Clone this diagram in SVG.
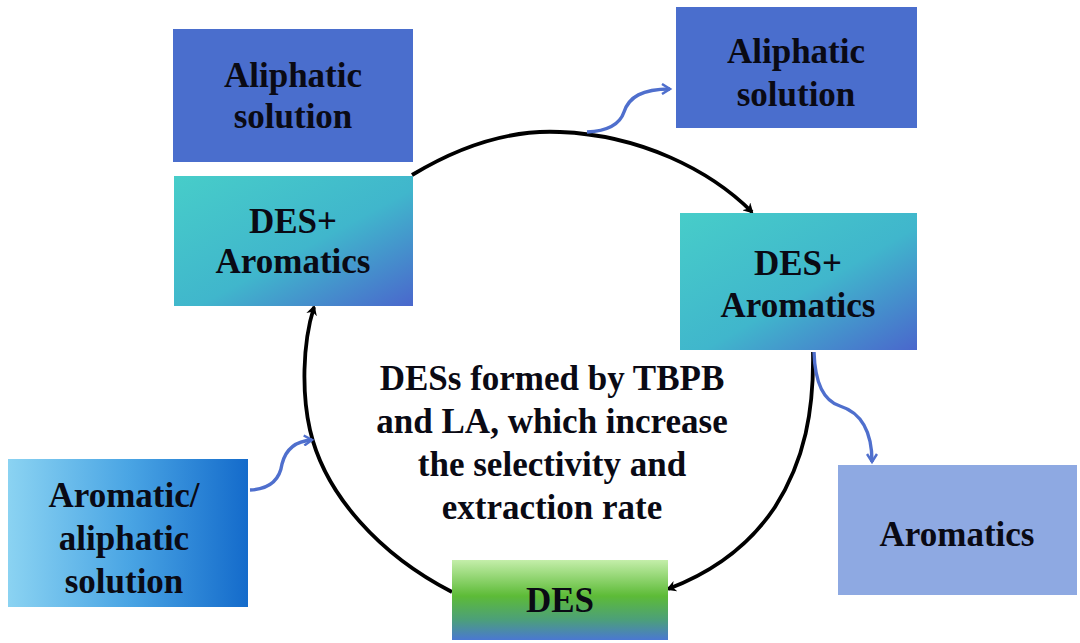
<svg xmlns="http://www.w3.org/2000/svg" width="1080" height="643" viewBox="0 0 1080 643">
<defs>
<linearGradient id="gTeal" x1="0" y1="0" x2="1" y2="1">
<stop offset="0" stop-color="#47cdc9"/>
<stop offset="0.55" stop-color="#40b6cc"/>
<stop offset="1" stop-color="#4a67cc"/>
</linearGradient>
<linearGradient id="gSky" x1="0" y1="0" x2="1" y2="0">
<stop offset="0" stop-color="#8bd3f2"/>
<stop offset="0.5" stop-color="#4aa5e4"/>
<stop offset="1" stop-color="#146bcb"/>
</linearGradient>
<linearGradient id="gGreen" x1="0" y1="0" x2="0" y2="1">
<stop offset="0" stop-color="#c4eeaa"/>
<stop offset="0.45" stop-color="#5dbb37"/>
<stop offset="0.75" stop-color="#4c9f7a"/>
<stop offset="1" stop-color="#4a78d2"/>
</linearGradient>
<marker id="ahB" markerWidth="11" markerHeight="11" refX="8" refY="5.5" orient="auto" markerUnits="userSpaceOnUse">
<path d="M0,0 L10,5.5 L0,11 L3,5.5 Z" fill="#000"/>
</marker>
<marker id="ahU" markerWidth="12" markerHeight="12" refX="9" refY="6" orient="auto" markerUnits="userSpaceOnUse">
<path d="M1,1 L9,6 L1,11" fill="none" stroke="#4f6fcd" stroke-width="2.5"/>
</marker>
</defs>
<style>
.t{font-weight:700;font-size:35px;fill:#0a0a14;text-anchor:middle}
.cyc{fill:none;stroke:#000;stroke-width:3.8}
.wave{fill:none;stroke:#4f6fcd;stroke-width:3.4}
</style>
<rect width="1080" height="643" fill="#fff"/>
<g id="connectors">
<path class="cyc" d="M412,175 C470,140 520,130 560,132 C640,135 710,170 752,212" marker-end="url(#ahB)"/>
<path class="cyc" d="M813,352 C814,410 805,460 775,507 C745,552 705,575 668,589" marker-end="url(#ahB)"/>
<path class="cyc" d="M452,592 C380,555 325,495 310,430 C302,395 302,345 314,307" marker-end="url(#ahB)"/>
<path class="wave" d="M587,132 C608,131 620,124 624,112 C629,97 642,89 670,89" marker-end="url(#ahU)"/>
<path class="wave" d="M250,490 C272,489 280,478 282,464 C286,448 296,441 312,440" marker-end="url(#ahU)"/>
<path class="wave" d="M814,352 C815,385 824,401 840,406 C862,413 872,432 872,462" marker-end="url(#ahU)"/>
</g>
<g font-family="Liberation Serif, Times New Roman, Tinos, Noto Serif, DejaVu Serif, serif">
<g id="aliphatic-left" class="t">
<rect x="173" y="29" width="240" height="133" fill="#4a6ecd"/>
<text x="293" y="87">Aliphatic</text>
<text x="293" y="128">solution</text>
</g>
<g id="des-arom-left" class="t">
<rect x="174" y="176" width="239" height="130" fill="url(#gTeal)"/>
<text x="293" y="233">DES+</text>
<text x="293" y="273">Aromatics</text>
</g>
<g id="aliphatic-right" class="t">
<rect x="676" y="7" width="241" height="121" fill="#4a6ecd"/>
<text x="796" y="63">Aliphatic</text>
<text x="796" y="106">solution</text>
</g>
<g id="des-arom-right" class="t">
<rect x="680" y="213" width="237" height="137" fill="url(#gTeal)"/>
<text x="798" y="275">DES+</text>
<text x="798" y="317">Aromatics</text>
</g>
<g id="feed" class="t">
<rect x="8" y="459" width="240" height="148" fill="url(#gSky)"/>
<text x="124" y="507">Aromatic/</text>
<text x="124" y="550">aliphatic</text>
<text x="124" y="593">solution</text>
</g>
<g id="des" class="t">
<rect x="452" y="560" width="216" height="80" fill="url(#gGreen)"/>
<text x="560" y="612">DES</text>
</g>
<g id="aromatics" class="t">
<rect x="838" y="465" width="239" height="130" fill="#8ea9e2"/>
<text x="957" y="546">Aromatics</text>
</g>
<g id="center-label" class="t">
<text x="552" y="390">DESs formed by TBPB</text>
<text x="552" y="433">and LA, which increase</text>
<text x="552" y="476">the selectivity and</text>
<text x="552" y="519">extraction rate</text>
</g>
</g>
</svg>
